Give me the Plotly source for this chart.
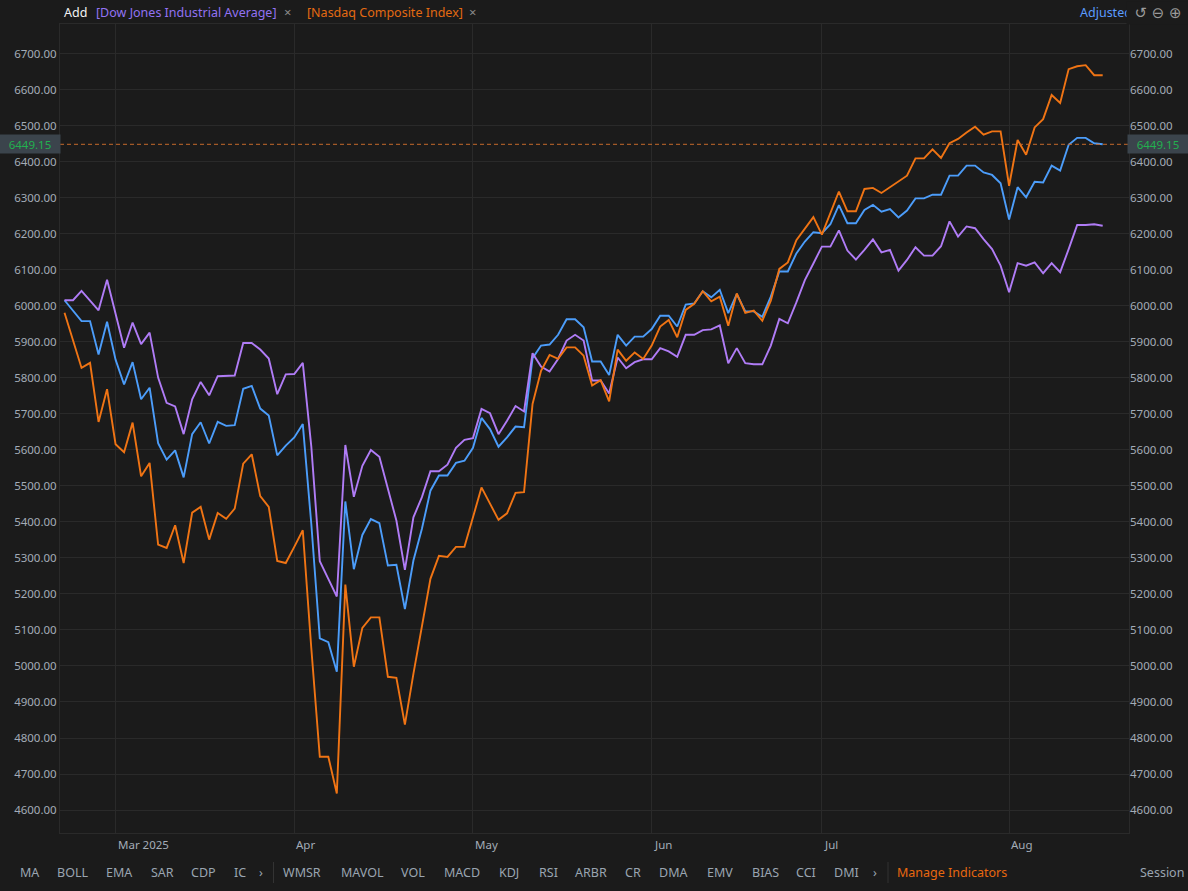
import pandas as pd
import plotly.graph_objects as go

# ---------------- data ----------------
start_date = "2025-02-21"
end_date = "2025-08-18"
market_holidays = ["2025-04-18", "2025-05-26", "2025-06-19", "2025-07-04"]

spx = [6016, 5986, 5958, 5958, 5865, 5956, 5851, 5782, 5844, 5741,
       5773, 5619, 5573, 5599, 5524, 5644, 5677, 5618, 5678, 5667,
       5669, 5770, 5778, 5715, 5696, 5585, 5612, 5635, 5672, 5395,
       5077, 5066, 4984, 5457, 5269, 5364, 5408, 5397, 5279, 5281,
       5158, 5293, 5381, 5487, 5529, 5529, 5564, 5570, 5606, 5689,
       5658, 5609, 5635, 5665, 5663, 5855, 5890, 5893, 5920, 5963,
       5963, 5941, 5846, 5846, 5808, 5920, 5890, 5915, 5915, 5936,
       5973, 5973, 5943, 6004, 6007, 6041, 6024, 6045, 5980, 6033,
       5985, 5985, 5970, 6026, 6096, 6096, 6146, 6179, 6205, 6202,
       6227, 6280, 6230, 6230, 6267, 6281, 6262, 6269, 6246, 6265,
       6299, 6299, 6309, 6309, 6362, 6362, 6390, 6390, 6371, 6364,
       6341, 6240, 6330, 6302, 6345, 6343, 6390, 6376, 6448, 6467,
       6467, 6452, 6449.15]

dow = [6016, 6016, 6042, 6015, 5988, 6073, 5982, 5884, 5954, 5894,
       5926, 5801, 5731, 5721, 5644, 5741, 5789, 5752, 5805, 5805,
       5807, 5897, 5897, 5879, 5854, 5755, 5810, 5811, 5842, 5610,
       5291, 5242, 5193, 5614, 5470, 5556, 5600, 5581, 5494, 5404,
       5267, 5413, 5469, 5541, 5541, 5559, 5606, 5628, 5633, 5714,
       5702, 5644, 5681, 5722, 5707, 5869, 5832, 5818, 5853, 5904,
       5920, 5904, 5793, 5793, 5757, 5857, 5827, 5844, 5852, 5852,
       5883, 5874, 5859, 5920, 5920, 5933, 5935, 5946, 5841, 5883,
       5841, 5838, 5838, 5890, 5964, 5952, 6010, 6072, 6118, 6165,
       6165, 6210, 6154, 6129, 6156, 6185, 6149, 6156, 6098, 6128,
       6163, 6140, 6140, 6166, 6235, 6193, 6221, 6216, 6186, 6158,
       6112, 6038, 6119, 6112, 6121, 6091, 6119, 6094, 6158, 6225,
       6225, 6227, 6223]

nasdaq = [5981, 5905, 5828, 5842, 5678, 5769, 5616, 5594, 5676, 5527,
          5564, 5337, 5328, 5391, 5286, 5426, 5442, 5351, 5425, 5409,
          5437, 5562, 5588, 5472, 5442, 5292, 5286, 5331, 5377, 5050,
          4748, 4748, 4646, 5226, 4998, 5106, 5135, 5135, 4970, 4967,
          4837, 4978, 5109, 5242, 5306, 5303, 5331, 5331, 5413, 5496,
          5451, 5406, 5424, 5481, 5483, 5728, 5820, 5864, 5853, 5885,
          5885, 5862, 5779, 5794, 5735, 5879, 5848, 5871, 5853, 5890,
          5943, 5961, 5913, 5989, 6006, 6041, 6013, 6026, 5945, 6035,
          5981, 5987, 5959, 6015, 6103, 6121, 6183, 6214, 6247, 6198,
          6258, 6318, 6263, 6263, 6325, 6328, 6314, 6330, 6346, 6362,
          6410, 6410, 6435, 6411, 6452, 6464, 6482, 6498, 6476, 6485,
          6485, 6334, 6461, 6420, 6496, 6519, 6586, 6564, 6658, 6666,
          6669, 6641, 6641]

month_labels = ["Mar 2025", "Apr", "May", "Jun", "Jul", "Aug"]
y_ticks = list(range(4600, 6800, 100))

top_labels = ["Add", "[Dow Jones Industrial Average]", "[Nasdaq Composite Index]"]
toolbar_items = ["MA", "BOLL", "EMA", "SAR", "CDP", "IC", "\u203a",
                 "WMSR", "MAVOL", "VOL", "MACD", "KDJ", "RSI", "ARBR", "CR",
                 "DMA", "EMV", "BIAS", "CCI", "DMI", "\u203a"]
toolbar_x = [29, 72, 119, 162, 203, 240, 261,
             302, 362, 413, 462, 509, 548, 591, 633,
             673, 720, 765, 806, 846, 875]

# ---------------- dates ----------------
dates = pd.bdate_range(start_date, end_date, freq="C", holidays=market_holidays)
x_cat = [d.strftime("%Y-%m-%d") for d in dates]
month_starts = [x_cat[i] for i in range(1, len(x_cat)) if dates[i].month != dates[i - 1].month]

# ---------------- geometry / style ----------------
W, H = 1188, 891
L, R, T, B = 60, 59, 24, 58
PW, PH = W - L - R, H - T - B


def px(x):
    return (x - L) / PW


def py(y):
    return (H - B - y) / PH


BG = "#1b1b1b"
GRID = "#2a2a2a"
TICK = "#a3acb7"
FONT = "Noto Sans"
C_SPX = "#4c9dfa"
C_DOW = "#b07cf6"
C_NDX = "#f07414"

Y_TOP, Y_BOT = 6783.3, 4536.1
X_LO, X_HI = -0.53, 125.09

fig = go.Figure()
fig.add_trace(go.Scatter(x=x_cat, y=spx, mode="lines", name="S&P 500",
                         line=dict(color=C_SPX, width=1.9)))
fig.add_trace(go.Scatter(x=x_cat, y=dow, mode="lines", name="Dow Jones Industrial Average",
                         line=dict(color=C_DOW, width=1.9)))
fig.add_trace(go.Scatter(x=x_cat, y=nasdaq, mode="lines", name="Nasdaq Composite Index",
                         line=dict(color=C_NDX, width=1.9)))

last_val = spx[-1]

fig.update_layout(
    width=W, height=H,
    margin=dict(l=L, r=R, t=T, b=B, pad=0),
    paper_bgcolor=BG, plot_bgcolor=BG,
    showlegend=False, hovermode=False,
    font=dict(family=FONT, size=12, color=TICK),
    xaxis=dict(type="category", range=[X_LO, X_HI], tickmode="array",
               tickvals=month_starts, showticklabels=False, ticks="",
               showgrid=True, gridcolor=GRID, gridwidth=1,
               showline=True, mirror=True, linecolor=GRID, linewidth=1,
               zeroline=False),
    yaxis=dict(range=[Y_BOT, Y_TOP], tickmode="array", tickvals=y_ticks,
               tickformat=".2f", side="left", showgrid=True, gridcolor=GRID,
               gridwidth=1, showline=True, mirror=True, linecolor=GRID, linewidth=1,
               zeroline=False, ticks="", tickfont=dict(size=11.5, color=TICK)),
    yaxis2=dict(range=[Y_BOT, Y_TOP], tickmode="array", tickvals=y_ticks,
                tickformat=".2f", side="right", overlaying="y", matches="y",
                showgrid=False, zeroline=False, ticks="", showline=False,
                tickfont=dict(size=11.5, color=TICK)),
)

# invisible anchor for the right-hand axis
fig.add_trace(go.Scatter(x=[x_cat[0]], y=[spx[0]], yaxis="y2", mode="lines",
                         line=dict(width=0), showlegend=False, hoverinfo="skip"))

# dashed last-price line
fig.add_shape(type="line", xref="paper", x0=0, x1=1, yref="y", y0=last_val, y1=last_val,
              line=dict(color="#c56a2b", width=1, dash="4px,3px"))

ann = []
# month labels (left aligned on month gridlines)
for v, t in zip(month_starts, month_labels):
    ann.append(dict(x=v, xref="x", y=py(844), yref="paper", text=t, showarrow=False,
                    xanchor="left", yanchor="middle", xshift=0,
                    font=dict(size=11.5, color=TICK)))

# last price boxes
for cx in (30, 1158):
    ann.append(dict(x=px(cx), xref="paper", y=last_val, yref="y", text=f"{last_val:.2f}",
                    showarrow=False, xanchor="center", yanchor="middle", width=60, height=18,
                    bgcolor="#3b444c", borderpad=0, font=dict(size=11.5, color="#22b04f")))

# top bar
ann.append(dict(x=px(62), xref="paper", y=py(12), yref="paper", text=top_labels[0],
                showarrow=False, xanchor="left", yanchor="middle",
                font=dict(size=12.5, color="#f2f2f2")))
ann.append(dict(x=px(94), xref="paper", y=py(12), yref="paper", text=top_labels[1],
                showarrow=False, xanchor="left", yanchor="middle",
                font=dict(size=12.5, color="#9272f2")))
ann.append(dict(x=px(287), xref="paper", y=py(12), yref="paper", text="\u00d7",
                showarrow=False, xanchor="center", yanchor="middle",
                font=dict(size=13, color="#8a8a8a")))
ann.append(dict(x=px(305), xref="paper", y=py(12), yref="paper", text=top_labels[2],
                showarrow=False, xanchor="left", yanchor="middle",
                font=dict(size=12.5, color="#e36a12")))
ann.append(dict(x=px(472), xref="paper", y=py(12), yref="paper", text="\u00d7",
                showarrow=False, xanchor="center", yanchor="middle",
                font=dict(size=13, color="#8a8a8a")))
ann.append(dict(x=px(1078), xref="paper", y=py(13), yref="paper", text="Adjusted",
                showarrow=False, xanchor="left", yanchor="middle",
                font=dict(size=12.5, color="#5b9cff")))
ann.append(dict(x=px(1158), xref="paper", y=py(13), yref="paper",
                text="\u21ba \u2296 \u2295", showarrow=False, xanchor="center",
                yanchor="middle", width=60, height=20, bgcolor=BG,
                font=dict(family="DejaVu Sans", size=15, color="#9a9a9a")))

# bottom indicator toolbar
for t, cx in zip(toolbar_items, toolbar_x):
    ann.append(dict(x=px(cx), xref="paper", y=py(872), yref="paper", text=t,
                    showarrow=False, xanchor="center", yanchor="middle",
                    font=dict(size=12.5, color="#9aa5b1")))
ann.append(dict(x=px(952), xref="paper", y=py(872), yref="paper", text="Manage Indicators",
                showarrow=False, xanchor="center", yanchor="middle",
                font=dict(size=12.5, color="#e8680f")))
ann.append(dict(x=px(1162), xref="paper", y=py(872), yref="paper", text="Session",
                showarrow=False, xanchor="center", yanchor="middle",
                font=dict(size=12.5, color="#9aa5b1")))
fig.update_layout(annotations=ann)

for sx in (273.5, 888):
    fig.add_shape(type="line", xref="paper", yref="paper", x0=px(sx), x1=px(sx),
                  y0=py(862), y1=py(883), line=dict(color="#333333", width=1))

fig.write_html("out.html", config={"displayModeBar": False, "staticPlot": True},
               post_script="document.body.style.margin='0';document.body.style.overflow='hidden';document.body.style.background='#1b1b1b';")
